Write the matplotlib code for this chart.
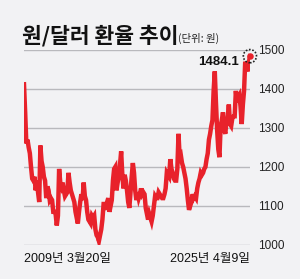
import numpy as np
import matplotlib
matplotlib.use("Agg")
import matplotlib.pyplot as plt

# KRW/USD, monthly, 2009-03 .. 2025-04
rate = [
    1412, 1340, 1260, 1270, 1250, 1235, 1200, 1170, 1165, 1175,                    # 2009
    1140, 1165, 1135, 1110, 1255, 1215, 1200, 1175, 1165, 1120, 1150, 1140,        # 2010
    1115, 1120, 1115, 1085, 1085, 1080, 1050, 1075, 1195, 1160, 1150, 1160,        # 2011
    1140, 1125, 1130, 1135, 1185, 1160, 1140, 1130, 1120, 1110, 1085, 1070,        # 2012
    1055, 1085, 1110, 1130, 1115, 1160, 1125, 1115, 1085, 1065, 1060, 1055,        # 2013
    1075, 1070, 1075, 1040, 1025, 1020, 1010, 1025, 1040, 1065, 1105, 1105,        # 2014
    1090, 1110, 1120, 1085, 1100, 1115, 1165, 1195, 1200, 1140, 1160, 1175,        # 2015
    1205, 1240, 1180, 1145, 1180, 1165, 1140, 1110, 1095, 1135, 1175, 1210,        # 2016
    1185, 1140, 1115, 1135, 1120, 1130, 1145, 1130, 1135, 1130, 1095, 1080,        # 2017
    1065, 1080, 1070, 1060, 1075, 1100, 1125, 1120, 1120, 1135, 1130, 1125,        # 2018
    1120, 1120, 1130, 1145, 1185, 1180, 1175, 1220, 1195, 1185, 1170, 1165,        # 2019
    1165, 1195, 1285, 1225, 1230, 1210, 1200, 1185, 1170, 1145, 1115, 1090,        # 2020
    1100, 1110, 1130, 1120, 1125, 1120, 1145, 1160, 1170, 1185, 1180, 1185,        # 2021
    1195, 1200, 1220, 1235, 1270, 1285, 1305, 1320, 1395, 1445, 1365, 1295,        # 2022
    1245, 1225, 1305, 1320, 1340, 1295, 1285, 1320, 1325, 1360, 1310, 1305,        # 2023
    1325, 1330, 1330, 1395, 1365, 1380, 1385, 1355, 1310, 1360, 1395, 1470,        # 2024
    1455, 1445, 1465, 1484.1,                                                      # 2025
]
yticks = [1000, 1100, 1200, 1300, 1400, 1500]
start_label = "2009년 3월20일"
end_label = "2025년 4월9일"
last_label = "1484.1"

bg = "#f2f2f4"
red = "#e8222b"

plt.rcParams['font.family'] = ['Liberation Sans', 'Noto Sans CJK KR', 'DejaVu Sans']

fig = plt.figure(figsize=(3.0, 2.79), dpi=100, facecolor=bg)
ax = fig.add_axes([0.08, 0.122, 0.753, 0.699], facecolor=bg)

x = np.arange(len(rate))
ax.plot(x, rate, color=red, lw=3.2, solid_joinstyle='miter', zorder=3)

ax.set_xlim(0, len(rate) - 1)
ax.set_ylim(1000, 1500)
ax.set_yticks(yticks)
ax.yaxis.tick_right()
ax.tick_params(axis='y', length=0, pad=6, labelsize=8.5, labelcolor='#222222')
ax.set_xticks([])
ax.grid(axis='y', color='#b9b9bd', lw=1.0)
for s in ax.spines.values():
    s.set_visible(False)

# last point marker: red dot inside a dashed ring
ax.scatter([x[-1]], [rate[-1]], s=22, color=red, zorder=5, clip_on=False, linewidths=0)
ax.scatter([x[-1]], [rate[-1]], s=90, facecolors='none', edgecolors='#222222',
           linewidths=1.2, linestyle=(0, (1, 1)), zorder=5, clip_on=False)
ax.annotate(last_label, (x[-1], rate[-1]), xytext=(-8, -4), textcoords='offset points',
            ha='right', va='center', fontsize=9.5, fontweight='bold', color='#111111')

fig.text(22 / 300, 0.849, "원/달러 환율 추이", fontsize=15.5, fontweight='bold',
         family=['Noto Sans CJK KR'], color='#111111', va='baseline')
fig.text(178 / 300, 0.849, "(단위: 원)", fontsize=7.5, family=['Noto Sans CJK KR'],
         color='#222222', va='baseline')

fig.text(24 / 300, 1 - 259 / 279, start_label, fontsize=9, color='#111111',
         ha='left', va='center')
fig.text(250 / 300, 1 - 259 / 279, end_label, fontsize=9, color='#111111',
         ha='right', va='center')

plt.savefig("out.png", dpi=100, facecolor=bg)
plt.close()
